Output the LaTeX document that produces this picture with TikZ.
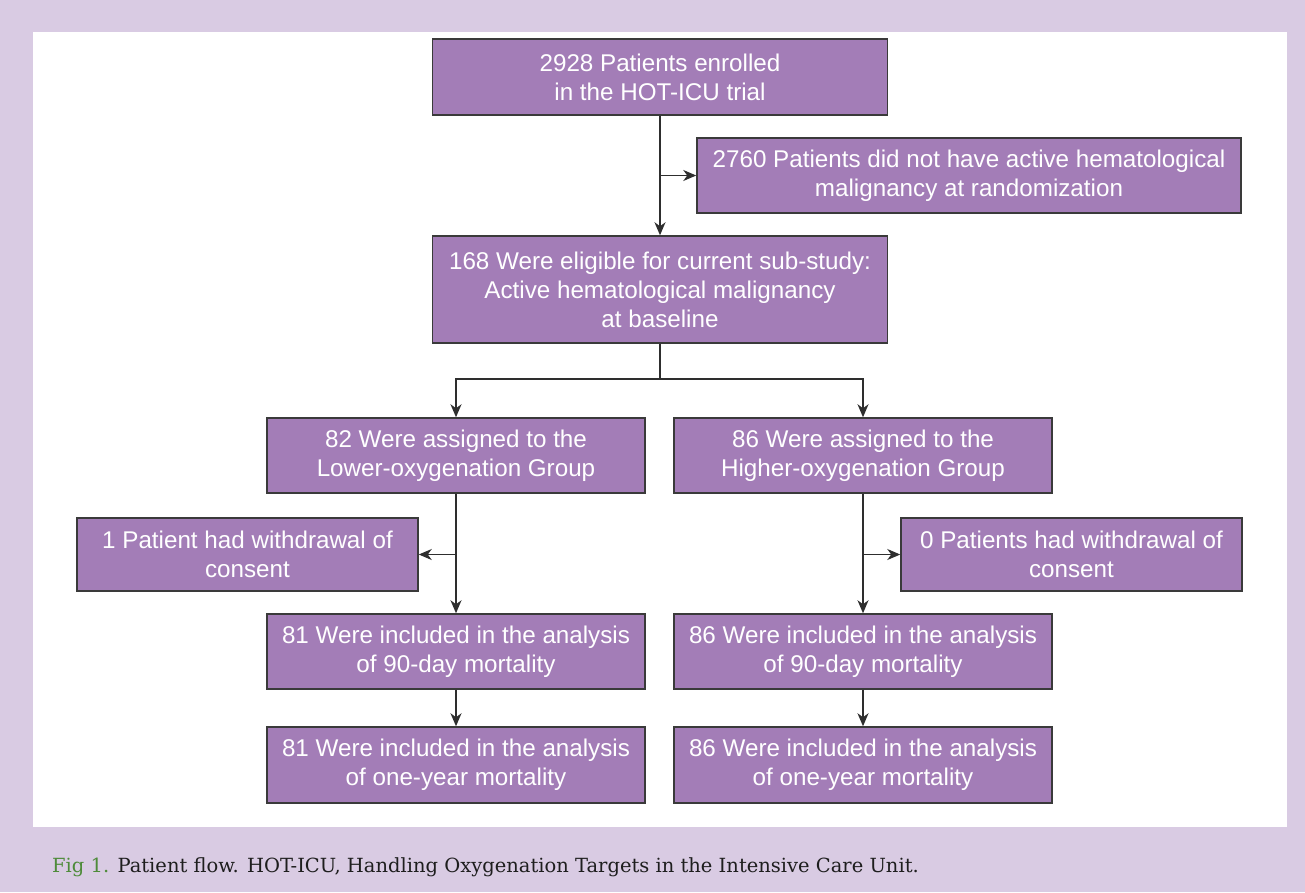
\documentclass[tikz,border=0pt]{standalone}
\usepackage{fontspec}
\setmainfont{Liberation Sans}
\newfontfamily\capfont{DejaVu Serif}
\usetikzlibrary{arrows.meta}
\definecolor{bgl}{HTML}{D9CBE3}
\definecolor{boxfill}{HTML}{A37DB7}
\definecolor{boxline}{HTML}{3A3A3A}
\definecolor{figgreen}{HTML}{4E8B3A}
\definecolor{captext}{HTML}{1E1E1E}
\begin{document}
\begin{tikzpicture}[x=1pt,y=-1pt,
  flowbox/.style={draw=boxline, fill=boxfill, line width=1.5pt, text=white,
    align=center, inner sep=0pt, font=\fontsize{24.2}{29}\selectfont},
  conn/.style={draw=boxline!80!black, line width=1.5pt},
  arr/.style={conn, -{Stealth[length=13pt,width=11pt,inset=4pt]}}]
\useasboundingbox (0,0) rectangle (1305,892);
\fill[bgl] (0,0) rectangle (1305,892);
\fill[white] (33,32) rectangle (1287,827);
% boxes
\node[flowbox, minimum width=455pt, minimum height=76pt] (enr) at (660,77) {2928 Patients enrolled\\in the HOT-ICU trial};
\node[flowbox, minimum width=544pt, minimum height=75pt] (ex1) at (969,175.5) {2760 Patients did not have active hematological\\malignancy at randomization};
\node[flowbox, minimum width=455pt, minimum height=107pt] (elig) at (660,289.5) {168 Were eligible for current sub-study:\\Active hematological malignancy\\at baseline};
\node[flowbox, minimum width=378pt, minimum height=75pt] (low) at (456,455.5) {82 Were assigned to the\\Lower-oxygenation Group};
\node[flowbox, minimum width=378pt, minimum height=75pt] (high) at (863,455.5) {86 Were assigned to the\\Higher-oxygenation Group};
\node[flowbox, minimum width=341pt, minimum height=73pt] (wl) at (247.5,554.5) {1 Patient had withdrawal of\\consent};
\node[flowbox, minimum width=341pt, minimum height=73pt] (wh) at (1071.5,554.5) {0 Patients had withdrawal of\\consent};
\node[flowbox, minimum width=378pt, minimum height=75pt] (l90) at (456,651.5) {81 Were included in the analysis\\of 90-day mortality};
\node[flowbox, minimum width=378pt, minimum height=75pt] (h90) at (863,651.5) {86 Were included in the analysis\\of 90-day mortality};
\node[flowbox, minimum width=378pt, minimum height=76pt] (l1y) at (456,765) {81 Were included in the analysis\\of one-year mortality};
\node[flowbox, minimum width=378pt, minimum height=76pt] (h1y) at (863,765) {86 Were included in the analysis\\of one-year mortality};
% connectors
\coordinate (j1) at (enr.south |- ex1.west);
\draw[arr] (enr.south) -- (elig.north);
\draw[arr] (j1) -- (ex1.west);
\coordinate (sp) at (660,379);
\draw[conn] (elig.south) -- (sp);
\draw[arr] (sp) -| (low.north);
\draw[arr] (sp) -| (high.north);
\coordinate (jl) at (low.south |- wl.east);
\coordinate (jh) at (high.south |- wh.west);
\draw[arr] (low.south) -- (l90.north);
\draw[arr] (jl) -- (wl.east);
\draw[arr] (high.south) -- (h90.north);
\draw[arr] (jh) -- (wh.west);
\draw[arr] (l90.south) -- (l1y.north);
\draw[arr] (h90.south) -- (h1y.north);
% caption
\node[anchor=base west, inner sep=0pt, font=\capfont\fontsize{19.5}{23}\selectfont, text=captext] (cap) at (52,872) {\textcolor{figgreen}{Fig 1.} Patient flow. HOT-ICU, Handling Oxygenation Targets in the Intensive Care Unit.};
\end{tikzpicture}
\end{document}
